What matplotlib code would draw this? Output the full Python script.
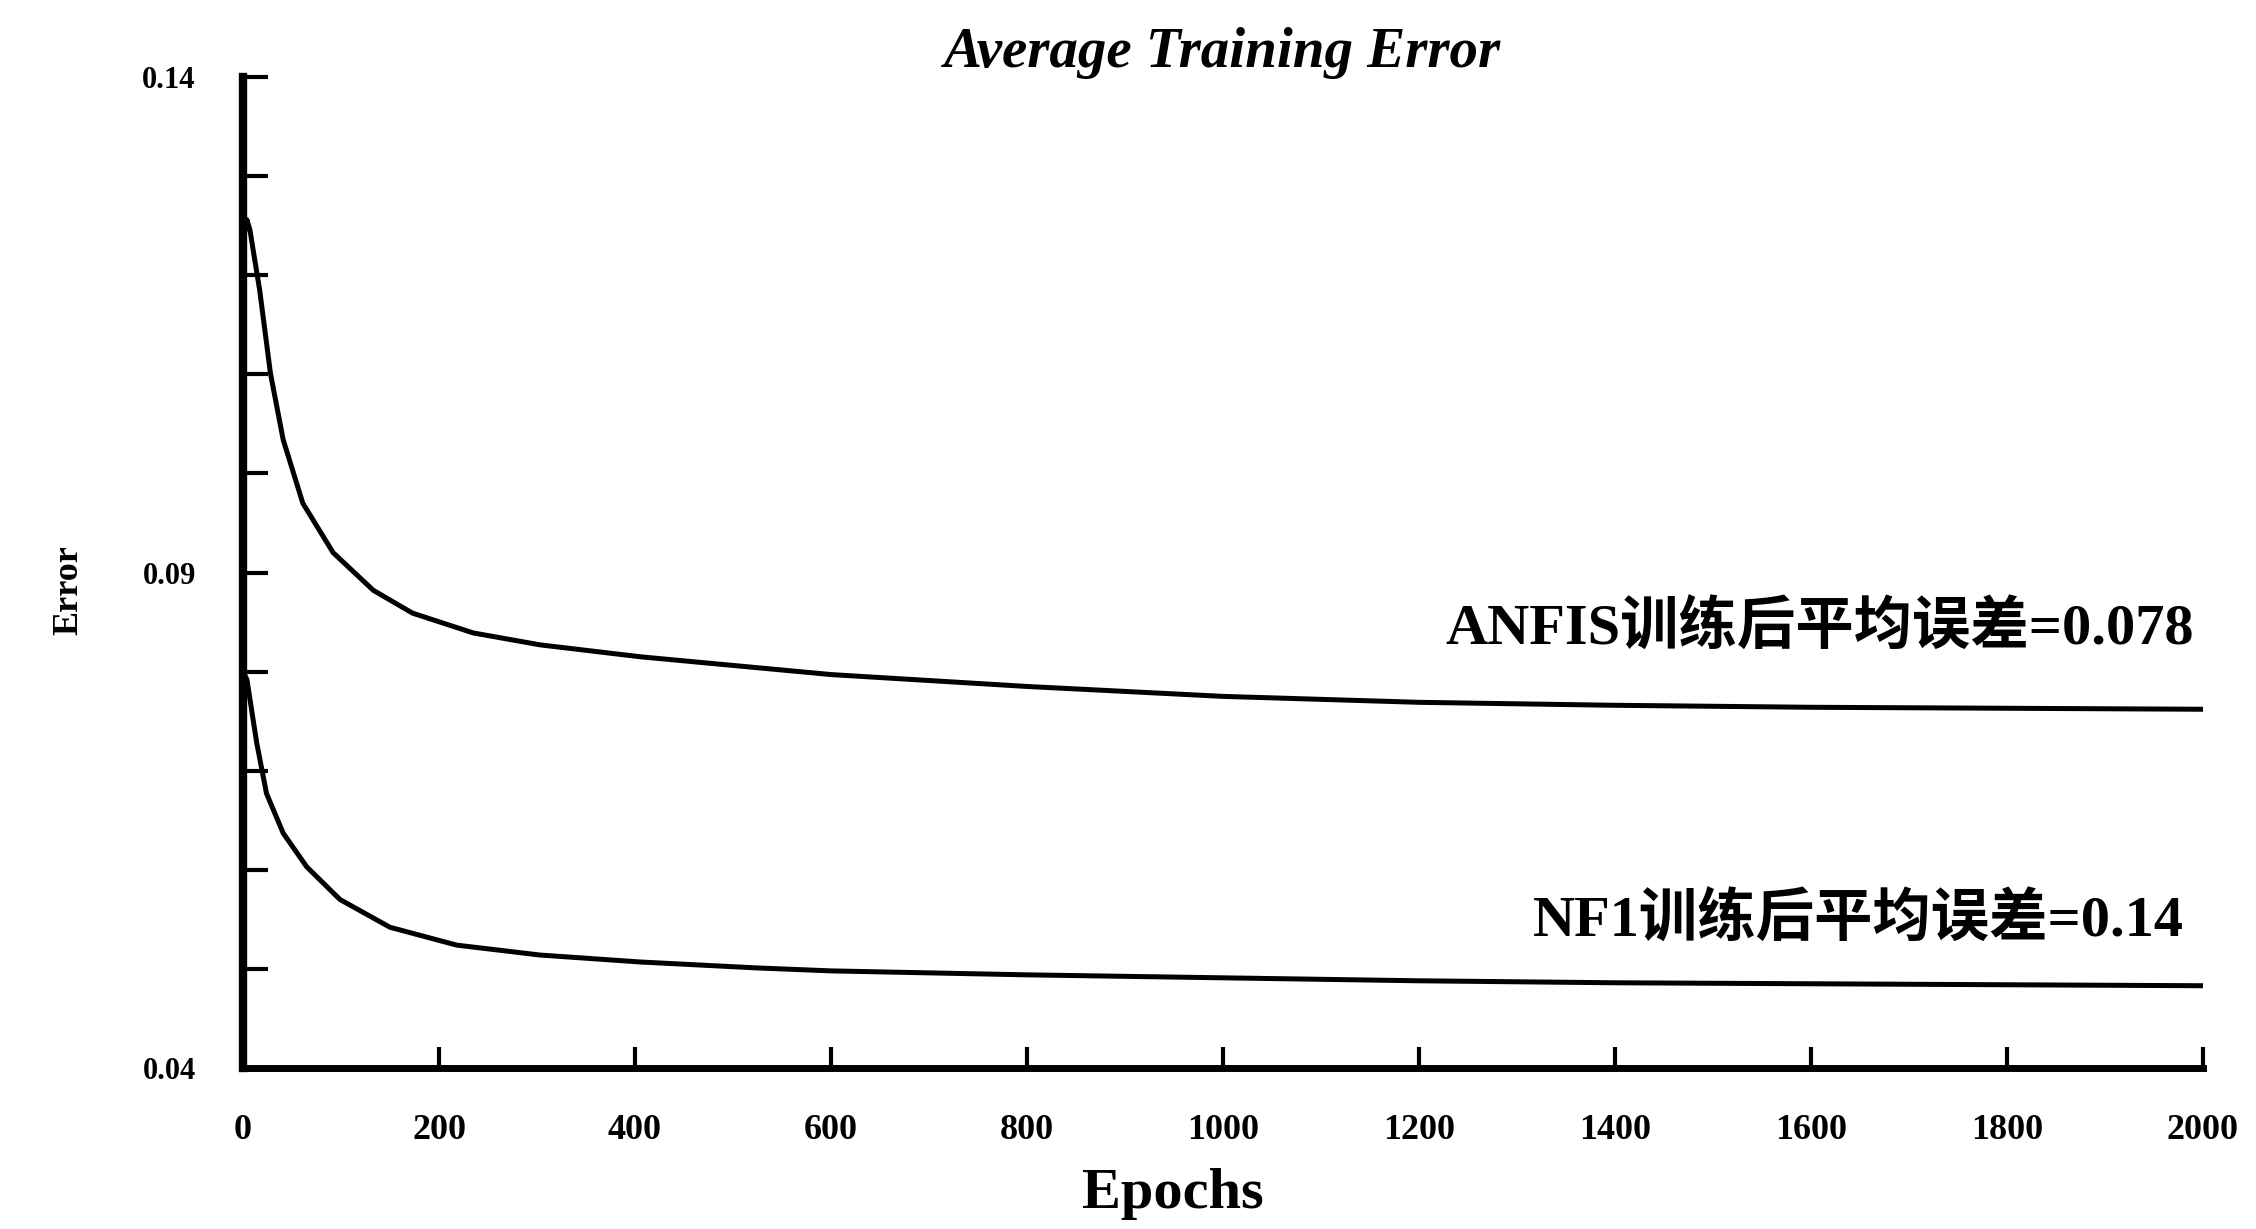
import matplotlib
matplotlib.use("Agg")
import matplotlib.pyplot as plt
import numpy as np

# ---- data ----
anfis_epochs = [0, 4, 7, 17, 28, 41, 61, 92, 133, 173, 235, 303, 405, 524,
                600, 800, 1000, 1200, 1400, 1600, 1800, 2000]
anfis_error = [0.1235, 0.1256, 0.1246, 0.1185, 0.1101, 0.1034, 0.0970, 0.0920,
               0.0882, 0.0859, 0.0839, 0.0827, 0.0815, 0.0804,
               0.0797, 0.0785, 0.0775, 0.0769, 0.0766, 0.0764, 0.0763, 0.0762]

nf1_epochs = [0, 4, 14, 24, 41, 65, 99, 150, 218, 303, 405, 524, 600, 800,
              1000, 1200, 1400, 1600, 1800, 2000]
nf1_error = [0.0800, 0.0792, 0.0728, 0.0677, 0.0637, 0.0603, 0.0570, 0.0542,
             0.0524, 0.0514, 0.0507, 0.0501, 0.0498, 0.0494,
             0.0491, 0.0488, 0.0486, 0.0485, 0.0484, 0.0483]

x_ticks = [0, 200, 400, 600, 800, 1000, 1200, 1400, 1600, 1800, 2000]
x_tick_labels = [str(v) for v in x_ticks]
y_ticks = [0.04, 0.05, 0.06, 0.07, 0.08, 0.09, 0.10, 0.11, 0.12, 0.13, 0.14]
y_tick_labels = ["0.04", "", "", "", "", "0.09", "", "", "", "", "0.14"]

title = "Average Training Error"
x_label = "Epochs"
y_label = "Error"
anfis_note = "ANFIS训练后平均误差=0.078"
nf1_note = "NF1训练后平均误差=0.14"

# ---- drawing ----
serif = ["Liberation Serif", "Noto Sans CJK SC", "DejaVu Sans"]
plt.rcParams["font.family"] = serif

fig = plt.figure(figsize=(22.56, 12.29), dpi=100)
ax = fig.add_axes([243 / 2256, 1 - 1068 / 1229, (2203 - 243) / 2256, (1068 - 77) / 1229])

ax.plot(anfis_epochs, anfis_error, color="black", lw=3.6, solid_capstyle="round",
        solid_joinstyle="round")
ax.plot(nf1_epochs, nf1_error, color="black", lw=3.6, solid_capstyle="round",
        solid_joinstyle="round")

ax.set_xlim(0, 2000)
ax.set_ylim(0.04, 0.14)

for s in ["top", "right"]:
    ax.spines[s].set_visible(False)
ax.spines["left"].set_linewidth(6)
ax.spines["bottom"].set_linewidth(5)

ax.set_xticks(x_ticks)
ax.set_xticklabels(x_tick_labels, fontsize=26, fontweight="bold")
ax.set_yticks(y_ticks)
ax.set_yticklabels(y_tick_labels, fontsize=22, fontweight="bold")
ax.tick_params(axis="x", direction="in", length=15, width=3, pad=33)
ax.tick_params(axis="y", direction="in", length=18, width=3, pad=34)

ax.set_title(title, fontsize=41, fontweight="bold", fontstyle="italic",
             pad=0, y=1.024, va="center")
ax.set_xlabel(x_label, fontsize=42, fontweight="bold", va="center")
ax.xaxis.set_label_coords(0.4745, -0.127)
ax.set_ylabel(y_label, fontsize=26, fontweight="bold", va="center")
ax.yaxis.set_label_coords(-0.0888, 0.482)

ax.text(1991, 0.0843, anfis_note, ha="right", va="center", fontsize=42,
        fontweight="bold", family=serif)
ax.text(1980, 0.0548, nf1_note, ha="right", va="center", fontsize=42,
        fontweight="bold", family=serif)

fig.savefig("out.png", dpi=100, facecolor="white")
